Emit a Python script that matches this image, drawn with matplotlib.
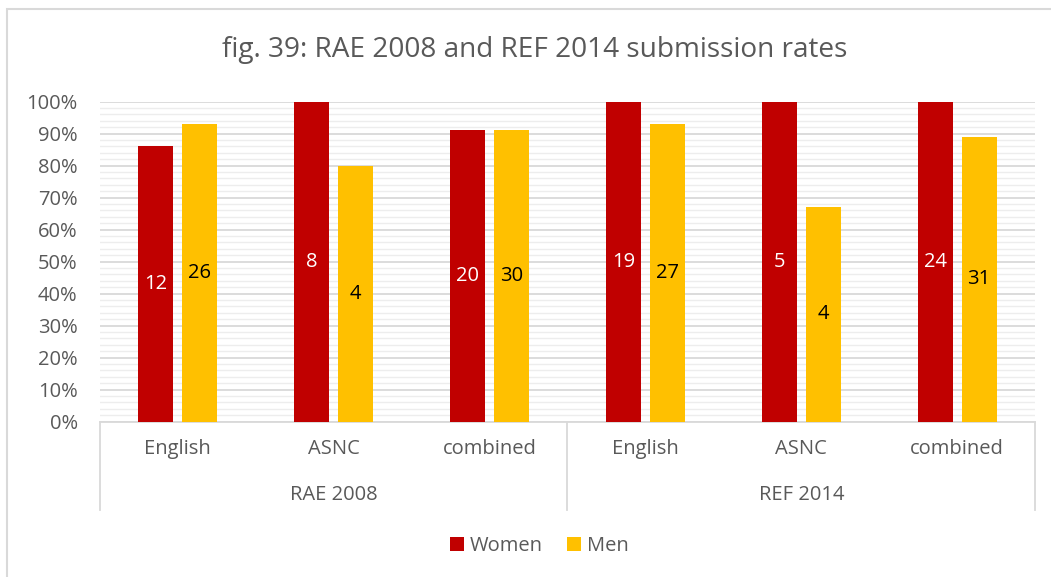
import matplotlib.pyplot as plt
import numpy as np
from matplotlib.patches import Rectangle
from matplotlib.ticker import MultipleLocator, PercentFormatter

plt.rcParams['font.family'] = ['Open Sans', 'DejaVu Sans']

# Submission rates and head counts per unit and exercise
groups = ['RAE 2008', 'REF 2014']
units = ['English', 'ASNC', 'combined']
women_rate = [0.86, 1.00, 0.91, 1.00, 1.00, 1.00]
men_rate = [0.93, 0.80, 0.91, 0.93, 0.67, 0.89]
women_count = [12, 8, 20, 19, 5, 24]
men_count = [26, 4, 30, 27, 4, 31]

RED = '#C00000'
GOLD = '#FFC000'
TEXT = '#595959'
GRID = '#D9D9D9'
FS = 14.5

fig = plt.figure(figsize=(10.51, 5.77), dpi=100)
ax = fig.add_axes([0.0951, 0.2692, 0.8897, 0.5546])

x = np.arange(len(women_rate))
w = 0.225
off = 0.141
b_w = ax.bar(x - off, women_rate, w, color=RED, label='Women', zorder=3)
b_m = ax.bar(x + off, men_rate, w, color=GOLD, label='Men', zorder=3)

ax.bar_label(b_w, labels=[str(c) for c in women_count], label_type='center',
             color='white', fontsize=FS)
ax.bar_label(b_m, labels=[str(c) for c in men_count], label_type='center',
             color='black', fontsize=FS)

ax.set_xlim(-0.5, len(x) - 0.5)
ax.set_ylim(0, 1)
ax.yaxis.set_major_locator(MultipleLocator(0.1))
ax.yaxis.set_minor_locator(MultipleLocator(0.02))
ax.yaxis.set_major_formatter(PercentFormatter(1.0, decimals=0))
ax.grid(axis='y', which='major', color=GRID, lw=1.3, zorder=1)
ax.grid(axis='y', which='minor', color='#EDEDED', lw=1.0, zorder=0)
ax.tick_params(axis='y', which='both', length=0, pad=16, labelsize=FS, labelcolor=TEXT)
ax.set_xticks([])
for s in ['top', 'right', 'left']:
    ax.spines[s].set_visible(False)
ax.spines['bottom'].set_color(GRID)
ax.spines['bottom'].set_linewidth(1.3)

# Two-level category axis: unit names, exercise names and bracket lines
tr = ax.get_xaxis_transform()
for i in x:
    ax.text(i, -0.085, units[i % 3], transform=tr, ha='center', va='center',
            fontsize=FS, color=TEXT)
for g, name in enumerate(groups):
    ax.text(g * 3 + 1, -0.228, name, transform=tr, ha='center', va='center',
            fontsize=FS, color=TEXT)
for xv in [-0.5, 2.5, 5.5]:
    ax.plot([xv, xv], [0, -0.276], transform=tr, color=GRID, lw=1.3, clip_on=False)

fig.suptitle('fig. 39: RAE 2008 and REF 2014 submission rates', x=0.509,
             y=1 - 50 / 577, va='center', fontsize=20.2, color=TEXT)

fig.legend(handles=[b_w, b_m], loc='center', bbox_to_anchor=(0.513, 0.054), ncol=2,
           frameon=False, fontsize=FS, labelcolor=TEXT, handlelength=0.7,
           handleheight=0.7, handletextpad=0.3, columnspacing=1.2)

# Chart area border
fig.patches.append(Rectangle((7 / 1051, -0.1), 1.2, 1 - 9 / 577 + 0.1,
                             transform=fig.transFigure, fill=False,
                             edgecolor=GRID, lw=1.5))

fig.savefig('out.png', dpi=100)
